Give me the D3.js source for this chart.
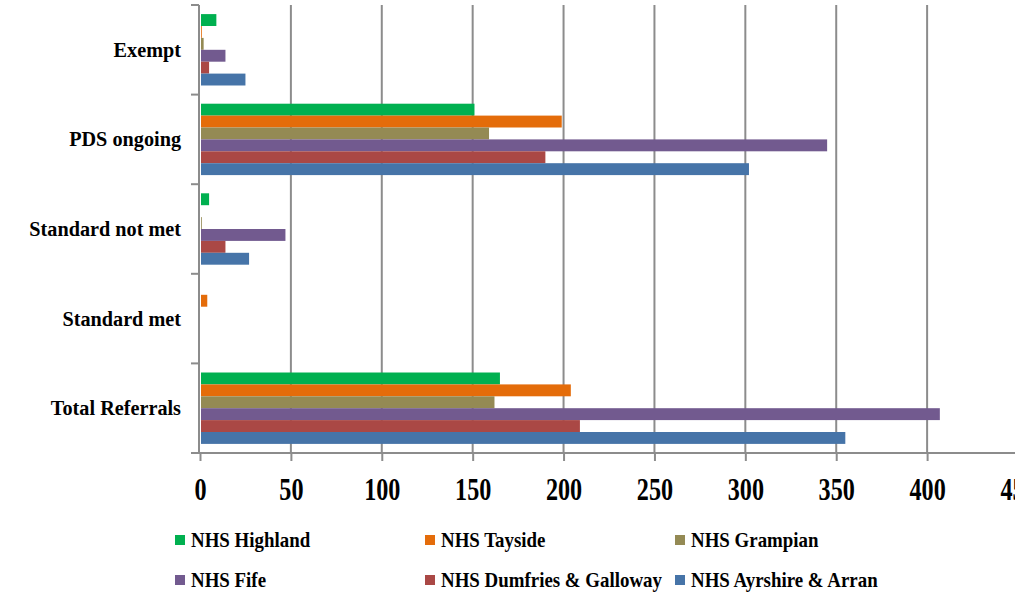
<!DOCTYPE html>
<html><head><meta charset="utf-8">
<script src="https://cdn.jsdelivr.net/npm/d3@7"></script>
<style>body{margin:0;background:#fff}svg{display:block}</style>
</head><body><svg id="c" width="1015" height="593"></svg>
<script>
const categories = ["Exempt","PDS ongoing","Standard not met","Standard met","Total Referrals"];
const seriesNames = ["NHS Highland","NHS Tayside","NHS Grampian","NHS Fife","NHS Dumfries & Galloway","NHS Ayrshire & Arran"];
const highland = [9,151,5,0,165];
const tayside  = [1,199,0,4,204];
const grampian = [2,159,1,0,162];
const fife     = [14,345,47,0,407];
const dumfries = [5,190,14,0,209];
const ayrshire = [25,302,27,0,355];
const xTicks = [0,50,100,150,200,250,300,350,400,450];
const colors = ["#00B050","#E46C0A","#948A54","#725A8F","#AA4845","#4674A8"];

const seriesValues = [highland,tayside,grampian,fife,dumfries,ayrshire];
const FONT = "'Liberation Serif','Times New Roman',serif";
const GRID = "#8c8c8c";

const svg = d3.select("#c");
const x = d3.scaleLinear().domain([0,450]).range([200,1018]);
const y = d3.scaleBand().domain(categories).range([5,453]).paddingInner(0).paddingOuter(0);
const ys = d3.scaleBand().domain(seriesNames).range([0,y.bandwidth()]).paddingInner(0).paddingOuter(0.765);

// gridlines
svg.append("g").selectAll("line").data(xTicks.filter(d=>d>0)).join("line")
  .attr("x1",d=>x(d)).attr("x2",d=>x(d)).attr("y1",5).attr("y2",453)
  .attr("stroke",GRID).attr("stroke-width",2);

// bars
const rows = [];
categories.forEach((c,ci)=>seriesNames.forEach((s,si)=>rows.push({c,s,si,v:seriesValues[si][ci]})));
svg.append("g").selectAll("rect").data(rows.filter(d=>d.v>0)).join("rect")
  .attr("x",x(0)+1).attr("y",d=>y(d.c)+ys(d.s))
  .attr("width",d=>x(d.v)-x(0)-1).attr("height",ys.bandwidth())
  .attr("fill",d=>colors[d.si]);

// x axis
const xAxis = d3.axisBottom(x).tickValues(xTicks).tickSize(8).tickFormat(d3.format("d"));
const gx = svg.append("g").attr("transform","translate(0,453)").call(xAxis);
gx.select(".domain").remove();
gx.append("line").attr("x1",191).attr("x2",1015).attr("y1",0).attr("y2",0).attr("stroke",GRID).attr("stroke-width",2);
gx.selectAll(".tick line").attr("stroke",GRID).attr("stroke-width",2);
gx.selectAll(".tick text").attr("y",null).attr("dy",null)
  .attr("transform","translate(0,47) scale(0.78,1)")
  .attr("font-family",FONT).attr("font-weight","bold").attr("font-size",31).attr("fill","#000");

// y axis
const yAxis = d3.axisLeft(y).tickSize(0).tickPadding(0);
const gy = svg.append("g").attr("transform","translate(199,0)").call(yAxis);
gy.select(".domain").remove();
gy.append("line").attr("x1",0).attr("x2",0).attr("y1",5).attr("y2",453).attr("stroke",GRID).attr("stroke-width",2);
const bounds = categories.map(c=>y(c)).concat([y.range()[1]]);
gy.selectAll(".bnd").data(bounds).join("line").attr("class","bnd")
  .attr("x1",-8).attr("x2",0).attr("y1",d=>d).attr("y2",d=>d).attr("stroke",GRID).attr("stroke-width",2);
gy.selectAll(".tick text").attr("x",null).attr("dy",null)
  .attr("transform","translate(-18,7) scale(0.92,1)")
  .attr("text-anchor","end")
  .attr("font-family",FONT).attr("font-weight","bold").attr("font-size",22).attr("fill","#000");

// legend
const legX = [175,425,675];
const legY = [540,580];
const lg = svg.append("g").selectAll("g").data(seriesNames).join("g")
  .attr("transform",(d,i)=>`translate(${legX[i%3]},${legY[Math.floor(i/3)]})`);
lg.append("rect").attr("x",0).attr("y",-5).attr("width",10).attr("height",10).attr("fill",(d,i)=>colors[i]);
lg.append("text").text(d=>d).attr("transform","translate(16,7) scale(0.9,1)")
  .attr("font-family",FONT).attr("font-weight","bold").attr("font-size",21).attr("fill","#000");
</script>
</body></html>
